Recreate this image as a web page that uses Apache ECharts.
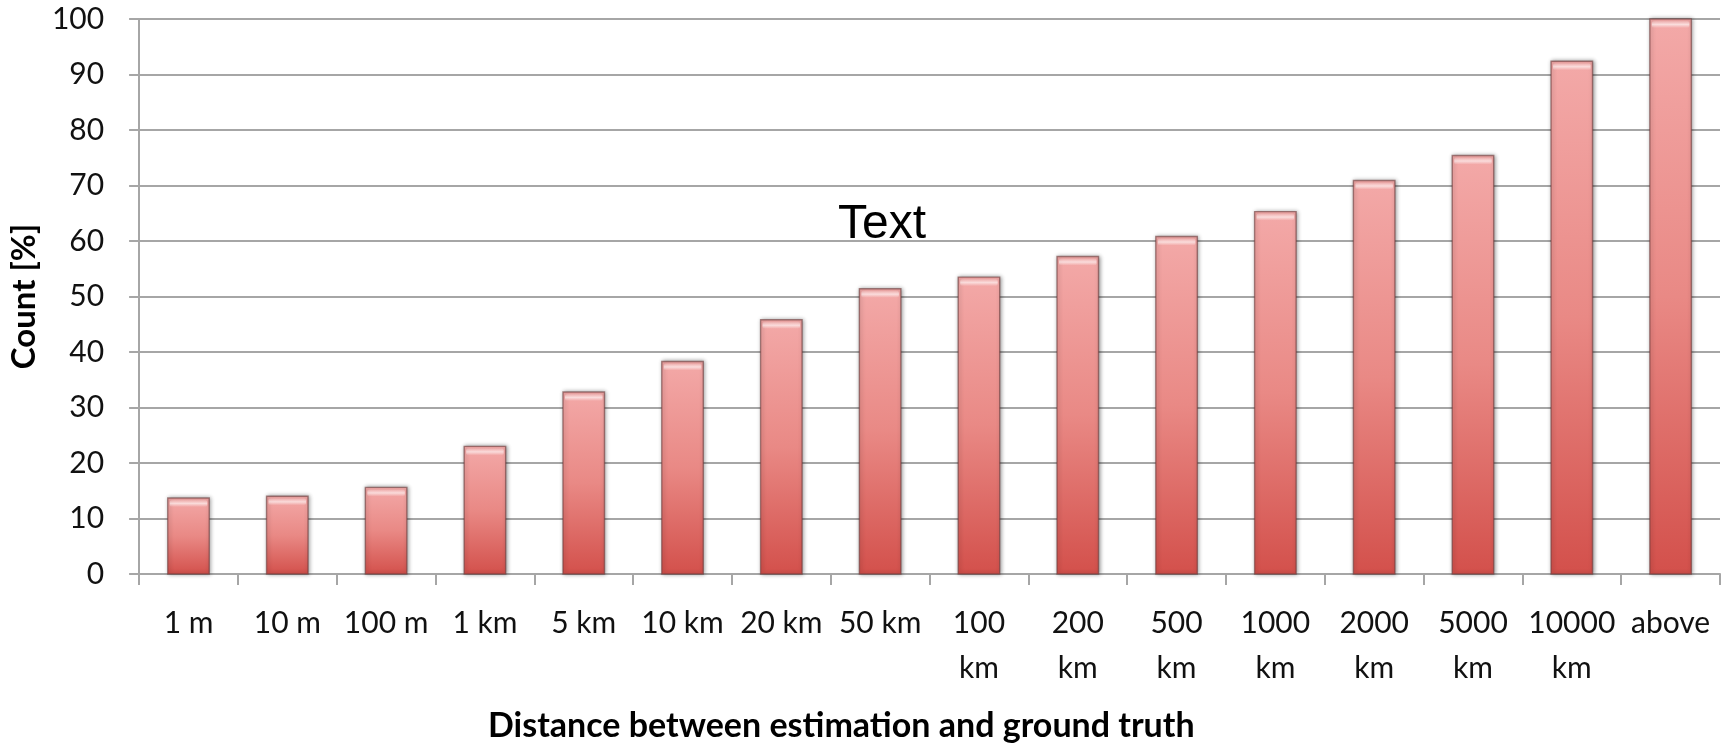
<!DOCTYPE html>
<html>
<head>
<meta charset="utf-8">
<title>Count by distance</title>
<script src="https://cdn.jsdelivr.net/npm/echarts@6/dist/echarts.min.js"></script>
<style>
  html, body { margin: 0; padding: 0; background: #ffffff; }
  #chart { width: 1728px; height: 746px; }
</style>
</head>
<body>
<div id="chart"></div>
<script>
// Distance buckets between estimation and ground truth
const categories = ['1 m', '10 m', '100 m', '1 km', '5 km', '10 km', '20 km', '50 km',
  '100 km', '200 km', '500 km', '1000 km', '2000 km', '5000 km', '10000 km', 'above'];
// Cumulative count [%] per bucket
const counts = [13.7, 14.0, 15.6, 23.0, 32.8, 38.3, 45.8, 51.4,
  53.5, 57.2, 60.8, 65.3, 70.9, 75.4, 92.4, 100];
const yTicks = { min: 0, max: 100, interval: 10 };

const FONT = 'Lato, "Open Sans", sans-serif';
const GRID_COLOR = '#a6a6a6';

const chart = echarts.init(document.getElementById('chart'), null, { renderer: 'canvas' });

// Bar with a vertical red gradient, dark rim and a glossy strip at its top
function renderBar(params, api) {
  const idx = api.value(0);
  const val = api.value(1);
  const base = api.coord([idx, 0]);
  const top = api.coord([idx, val]);
  const w = api.size([1, 0])[0] * 0.42;
  const x = base[0] - w / 2;
  const h = base[1] - top[1];
  return {
    type: 'group',
    children: [
      {
        type: 'rect',
        shape: { x: x, y: top[1], width: w, height: h },
        style: {
          fill: new echarts.graphic.LinearGradient(0, 0, 0, 1, [
            { offset: 0, color: '#f3a9a8' },
            { offset: 0.5, color: '#e98985' },
            { offset: 1, color: '#d3504b' }
          ]),
          stroke: 'rgba(110,60,60,0.6)',
          lineWidth: 1.4,
          shadowBlur: 4,
          shadowColor: 'rgba(0,0,0,0.4)',
          shadowOffsetX: 1,
          shadowOffsetY: 0
        }
      },
      {
        type: 'rect',
        shape: { x: x + 2, y: top[1] + 2, width: w - 4, height: 7, r: 2 },
        style: {
          fill: new echarts.graphic.LinearGradient(0, 0, 0, 1, [
            { offset: 0, color: 'rgba(255,255,255,0.1)' },
            { offset: 0.5, color: 'rgba(255,255,255,0.6)' },
            { offset: 1, color: 'rgba(255,255,255,0.0)' }
          ])
        }
      }
    ]
  };
}

const option = {
  backgroundColor: '#ffffff',
  animation: false,
  grid: { left: 138, right: 8, top: 19, bottom: 172, containLabel: false },
  xAxis: {
    type: 'category',
    data: categories,
    boundaryGap: true,
    axisLine: { show: true, lineStyle: { color: GRID_COLOR, width: 2 } },
    axisTick: { show: true, length: 11, lineStyle: { color: GRID_COLOR, width: 2 } },
    axisLabel: {
      interval: 0,
      margin: 27,
      fontFamily: FONT,
      fontSize: 30,
      lineHeight: 45,
      color: '#111111',
      formatter: function (v) { return v.length > 5 ? v.replace(' ', '\n') : v; }
    },
    splitLine: { show: false }
  },
  yAxis: {
    type: 'value',
    min: yTicks.min,
    max: yTicks.max,
    interval: yTicks.interval,
    name: 'Count [%]',
    nameLocation: 'middle',
    nameGap: 95,
    nameTextStyle: { fontFamily: FONT, fontSize: 33, fontWeight: 'bold', color: '#000000' },
    axisLine: { show: true, lineStyle: { color: GRID_COLOR, width: 2 } },
    axisTick: { show: true, inside: false, length: 10, lineStyle: { color: GRID_COLOR, width: 2 } },
    axisLabel: { margin: 35, fontFamily: FONT, fontSize: 30, color: '#111111' },
    splitLine: { show: true, lineStyle: { color: GRID_COLOR, width: 2 } }
  },
  series: [{
    type: 'custom',
    renderItem: renderBar,
    encode: { x: 0, y: 1 },
    data: counts.map(function (v, i) { return [i, v]; }),
    z: 3
  }],
  graphic: [
    {
      type: 'text',
      left: 838,
      top: 201,
      style: {
        text: 'Text',
        fontFamily: '"Liberation Sans", Arial, sans-serif',
        fontSize: 48,
        fill: '#000000'
      },
      z: 10
    },
    {
      type: 'text',
      left: 488,
      top: 709,
      style: {
        text: 'Distance between estimation and ground truth',
        fontFamily: FONT,
        fontSize: 34,
        fontWeight: 'bold',
        fill: '#000000'
      }
    }
  ]
};

chart.setOption(option);
</script>
</body>
</html>
